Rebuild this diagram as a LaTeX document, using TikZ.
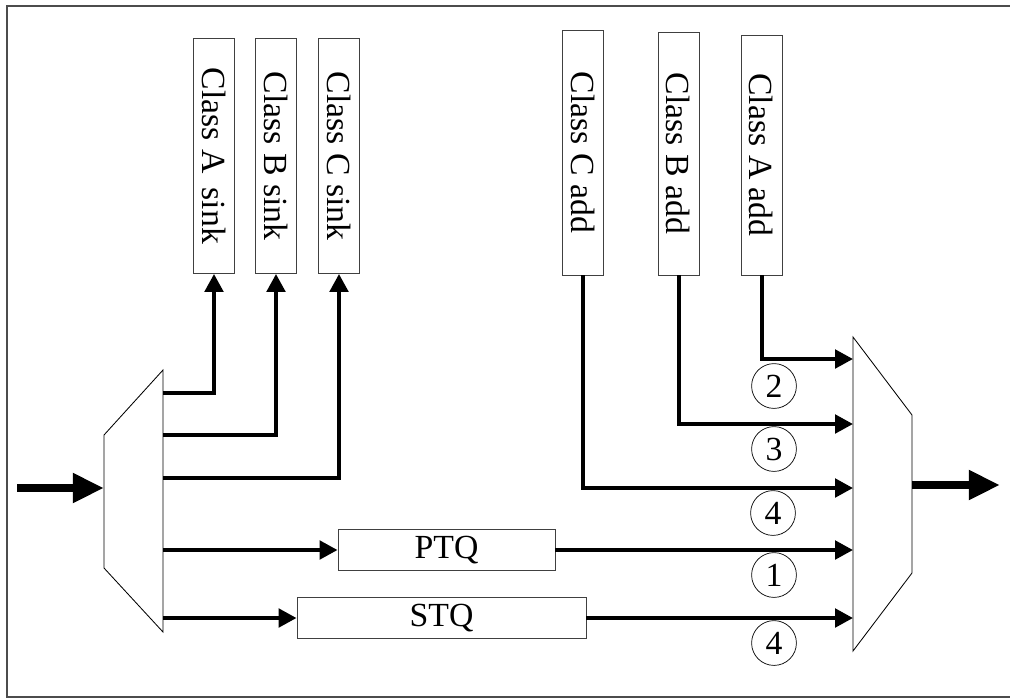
\documentclass[tikz,border=0pt]{standalone}
\usepackage{fontspec}
\setmainfont{Liberation Serif}
\usepackage{graphicx}
\usetikzlibrary{arrows.meta,positioning}

\begin{document}
\begin{tikzpicture}[x=0.025cm, y=-0.025cm,
    box/.style={draw=black!75, line width=0.6pt, inner sep=0pt, font=\fontsize{24}{28}\selectfont},
    vbox/.style={box, minimum width=1.025cm},
    flow/.style={line width=0.1cm, line join=miter, -{Triangle[length=0.45cm, width=0.46cm]}},
    bigflow/.style={line width=0.2cm, -{Triangle[length=0.78cm, width=0.7cm]}},
    tag/.style={circle, draw, line width=0.5pt, minimum size=1.12cm, inner sep=0pt,
                font=\fontsize{24}{28}\selectfont}]

  \useasboundingbox (0,0) rectangle (1010,698);
  \draw[black!70, line width=1pt] (1010,6) -- (7,6) -- (7,697) -- (1010,697);

  % demux and mux
  \draw[line width=0.6pt] (163,370) -- (104,435) -- (104,568) -- (163,632) -- cycle;
  \draw[line width=0.6pt] (853,337) -- (912,415) -- (912,573) -- (853,651) -- cycle;

  \coordinate (in) at (17,488);
  \coordinate (dmx) at (104,488);
  \coordinate (d1) at (163,393);
  \coordinate (d2) at (163,435);
  \coordinate (d3) at (163,478);
  \coordinate (d4) at (163,550);
  \coordinate (d5) at (163,618);
  \coordinate (m1) at (853,359);
  \coordinate (m2) at (853,424);
  \coordinate (m3) at (853,488);
  \coordinate (m4) at (853,550);
  \coordinate (m5) at (853,618);
  \coordinate (mxo) at (912,485);
  \coordinate (out) at (1000,485);

  % sinks
  \node[vbox, minimum height=5.875cm] (sinkA) at (214,156) {\rotatebox{-90}{Class A\, sink}};
  \node[vbox, minimum height=5.875cm] (sinkB) at (276,156) {\rotatebox{-90}{Class B sink}};
  \node[vbox, minimum height=5.875cm] (sinkC) at (339,156) {\rotatebox{-90}{Class C sink}};

  % adds
  \node[vbox, minimum height=6.125cm] (addC) at (583,152.5) {\rotatebox{-90}{Class C add}};
  \node[vbox, minimum height=6.075cm] (addB) at (678.5,153.5) {\rotatebox{-90}{Class B add}};
  \node[vbox, minimum height=6cm] (addA) at (761.5,155) {\rotatebox{-90}{Class A add}};

  % queues
  \node[box, minimum width=5.425cm, minimum height=1.025cm] (ptq) at (446.5,550) {PTQ};
  \node[box, minimum width=7.225cm, minimum height=1.025cm] (stq) at (441.5,618) {STQ};

  \draw[bigflow] (in) -- (dmx);
  \draw[bigflow] (mxo) -- (out);

  \draw[flow] (d1) -| (sinkA.south);
  \draw[flow] (d2) -| (sinkB.south);
  \draw[flow] (d3) -| (sinkC.south);
  \draw[flow] (d4) -- (ptq.west);
  \draw[flow] (d5) -- (stq.west);

  \draw[flow] (addA.south) |- (m1);
  \draw[flow] (addB.south) |- (m2);
  \draw[flow] (addC.south) |- (m3);
  \draw[flow] (ptq.east) -- (m4);
  \draw[flow] (stq.east) -- (m5);

  % order tags
  \node[tag] (t1) at (774,386) {2};
  \node[tag] (t2) at (774,449) {3};
  \node[tag] (t3) at (773,513) {4};
  \node[tag] (t4) at (774,575) {1};
  \node[tag] (t5) at (774,643) {4};
\end{tikzpicture}
\end{document}
